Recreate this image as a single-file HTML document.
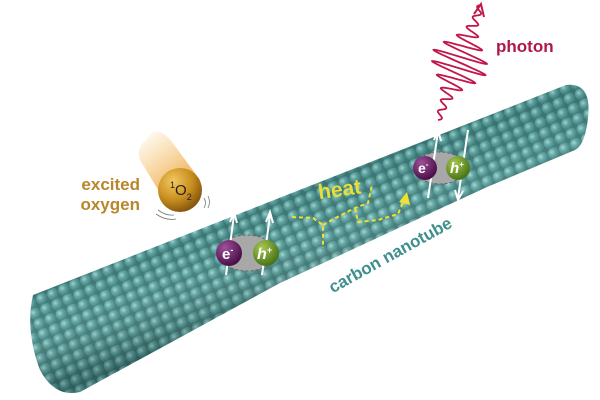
<!DOCTYPE html>
<html><head><meta charset="utf-8"><style>
html,body{margin:0;padding:0;background:#fff;}
svg{display:block;font-family:"Liberation Sans",sans-serif;}
</style></head><body>
<svg width="600" height="400" viewBox="0 0 600 400" xmlns="http://www.w3.org/2000/svg">
<defs>
<radialGradient id="atom" cx="0.38" cy="0.35" r="0.65">
<stop offset="0" stop-color="#a4d6d3"/><stop offset="0.4" stop-color="#5fa6a3"/><stop offset="1" stop-color="#3a7a78"/>
</radialGradient>
<pattern id="atoms" width="12" height="11" patternUnits="userSpaceOnUse" patternTransform="rotate(-23)">
<rect width="12" height="11" fill="#3d7775"/>
<circle cx="6" cy="5.5" r="6.1" fill="url(#atom)"/>
</pattern>
<linearGradient id="shade" gradientUnits="userSpaceOnUse" x1="300" y1="185" x2="335" y2="290">
<stop offset="0" stop-color="#000" stop-opacity="0.05"/>
<stop offset="0.45" stop-color="#fff" stop-opacity="0.06"/>
<stop offset="1" stop-color="#000" stop-opacity="0.22"/>
</linearGradient>
<radialGradient id="gold" cx="0.35" cy="0.3" r="0.7">
<stop offset="0" stop-color="#f3c760"/><stop offset="0.6" stop-color="#c98f1f"/><stop offset="1" stop-color="#8a5a10"/>
</radialGradient>
<linearGradient id="glow" x1="0" y1="0" x2="0.6" y2="1">
<stop offset="0" stop-color="#f5b84a" stop-opacity="0"/><stop offset="1" stop-color="#e8992a" stop-opacity="0.95"/>
</linearGradient>
<radialGradient id="pur" cx="0.35" cy="0.3" r="0.7"><stop offset="0" stop-color="#a0509a"/><stop offset="1" stop-color="#4a1048"/></radialGradient>
<radialGradient id="grn" cx="0.35" cy="0.3" r="0.7"><stop offset="0" stop-color="#a8c850"/><stop offset="1" stop-color="#4a7418"/></radialGradient>
<clipPath id="tube"><path d="M33,295 L566,85 Q592,82 588,118 Q585,145 575,150 L487,187 L280,283 L80,392 Q55,398 40,370 Q25,330 33,295 Z"/></clipPath>
</defs>

<g clip-path="url(#tube)">
<rect x="0" y="0" width="600" height="400" fill="url(#atoms)"/>
<rect x="0" y="0" width="600" height="400" fill="url(#shade)"/>
</g>

<!-- oxygen -->
<path d="M146,140 Q156,122 172,142 L200,180 L168,206 L140,160 Q136,148 146,140Z" fill="url(#glow)"/>
<circle cx="180" cy="190" r="22" fill="url(#gold)"/>
<text x="170" y="195" font-size="15" fill="#222"><tspan font-size="9" dy="-7">1</tspan><tspan dy="7">O</tspan><tspan font-size="9" dy="5">2</tspan></text>
<path d="M204,198 q3,5 0,10 M208,196 q3,6 0,12 M158,210 q8,6 16,5 M156,214 q10,7 20,5" stroke="#777" stroke-width="0.8" fill="none"/>
<text x="140" y="190" font-size="17" font-weight="bold" fill="#b8862b" text-anchor="end">excited</text>
<text x="140" y="210" font-size="17" font-weight="bold" fill="#b8862b" text-anchor="end">oxygen</text>

<!-- exciton 1 -->
<ellipse cx="247" cy="253" rx="28" ry="18" fill="#a8a8a8" stroke="#666" stroke-dasharray="3,2"/>
<path d="M226,275 L234,215 M230,222 l4,-10 l3,11 M262,275 L270,215 M266,222 l4,-10 l3,11" stroke="#fff" stroke-width="2" fill="none"/>
<circle cx="229" cy="253" r="13" fill="url(#pur)"/>
<circle cx="266" cy="253" r="13" fill="url(#grn)"/>
<text x="222" y="259" font-size="15" font-weight="bold" fill="#fff">e<tspan font-size="9" dy="-6">-</tspan></text>
<text x="257" y="259" font-size="16" font-weight="bold" font-style="italic" fill="#fff">h<tspan font-size="9" dy="-6">+</tspan></text>

<!-- heat -->
<path d="M292,217 L313,218 L323,225 L323,248 M323,225 L345,213 L355,208 L368,203 L372,185 M355,208 L358,222 L378,220 L398,214 L405,198" stroke="#f0e030" stroke-width="2" stroke-dasharray="4,3" fill="none"/>
<path d="M399,202 L407,192 L410,205 Z" fill="#f0e030"/>
<text x="318" y="197" font-size="21" font-weight="bold" fill="#e6de3a" transform="rotate(-8 335 190)">heat</text>

<!-- exciton 2 -->
<ellipse cx="440" cy="168" rx="25" ry="16" fill="#a8a8a8" stroke="#666" stroke-dasharray="3,2"/>
<path d="M428,198 L438,132 M434,140 l4,-10 l3,11 M468,130 L458,198 M455,190 l3,10 l5,-9" stroke="#fff" stroke-width="2" fill="none"/>
<circle cx="425" cy="168" r="12" fill="url(#pur)"/>
<circle cx="458" cy="168" r="12" fill="url(#grn)"/>
<text x="418" y="173" font-size="14" font-weight="bold" fill="#fff">e<tspan font-size="8" dy="-6">-</tspan></text>
<text x="450" y="173" font-size="15" font-weight="bold" font-style="italic" fill="#fff">h<tspan font-size="8" dy="-6">+</tspan></text>

<text x="393" y="260" font-size="17" font-weight="bold" fill="#3f8f8d" text-anchor="middle" transform="rotate(-29 393 260)">carbon nanotube</text>

<!-- photon -->
<path id="wave" d="" stroke="#c0184a" stroke-width="1.8" fill="none"/>
<path d="M474,14 L481,4 L484,17" stroke="#c0184a" stroke-width="2" fill="none"/>
<text x="496" y="52" font-size="17" font-weight="bold" fill="#b0184a">photon</text>
</svg>
<script>
(function(){
var x0=438,y0=120,x1=481,y1=5;
var dx=x1-x0,dy=y1-y0,L=Math.hypot(dx,dy),ux=dx/L,uy=dy/L,px=-uy,py=ux;
var d="";
for(var i=0;i<=400;i++){var t=i/400,s=t*L;
var env=26*Math.exp(-Math.pow((t-0.5)/0.2,2));
var a=Math.sin(t*2*Math.PI*11)*(env+3);
var x=x0+ux*s+px*a,y=y0+uy*s+py*a;
d+=(i?"L":"M")+x.toFixed(1)+","+y.toFixed(1);}
document.getElementById("wave").setAttribute("d",d);
})();
</script>
</body></html>
